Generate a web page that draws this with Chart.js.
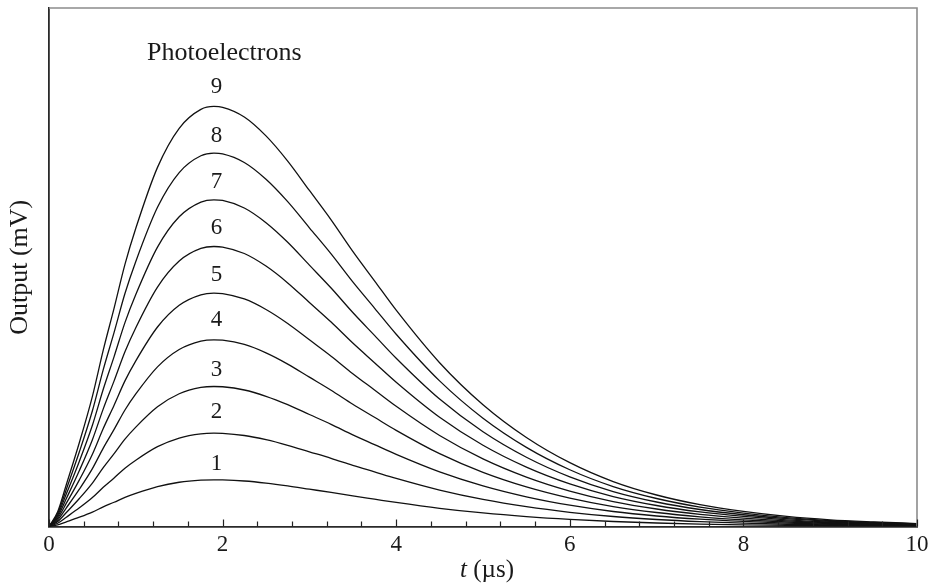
<!DOCTYPE html>
<html>
<head>
<meta charset="utf-8">
<script src="https://cdn.jsdelivr.net/npm/chart.js@4.4.1/dist/chart.umd.min.js"></script>
<style>
  html, body { margin: 0; padding: 0; background: #fff; }
  #wrap { width: 936px; height: 583px; }
</style>
</head>
<body>
<div id="wrap"><canvas id="c" width="936" height="583"></canvas></div>
<script>
// Time axis samples (µs)
const tValues = [0, 0.1, 0.2, 0.35, 0.5, 0.625, 0.75, 0.875, 1, 1.25, 1.5, 1.75, 1.9, 2, 2.25, 2.5, 2.75, 3, 3.25, 3.5, 3.75, 4, 4.5, 5, 5.5, 6, 6.5, 7, 7.5, 8, 8.5, 9, 9.5, 10];

// Output pulses for 1..9 photoelectrons
const pe1 = [0, 0.035, 0.10, 0.20, 0.31, 0.42, 0.52, 0.624, 0.71, 0.855, 0.948, 0.993, 1.0, 0.998, 0.975, 0.93, 0.87, 0.80, 0.73, 0.655, 0.585, 0.515, 0.39, 0.29, 0.212, 0.152, 0.107, 0.075, 0.052, 0.036, 0.024, 0.016, 0.011, 0.007];
const pe2 = [0, 0.07, 0.2, 0.4, 0.62, 0.84, 1.04, 1.248, 1.42, 1.71, 1.896, 1.986, 2.0, 1.996, 1.95, 1.86, 1.74, 1.6, 1.46, 1.31, 1.17, 1.03, 0.78, 0.58, 0.424, 0.304, 0.214, 0.15, 0.104, 0.072, 0.048, 0.032, 0.022, 0.014];
const pe3 = [0, 0.105, 0.3, 0.6, 0.93, 1.26, 1.56, 1.872, 2.13, 2.565, 2.844, 2.979, 3.0, 2.994, 2.925, 2.79, 2.61, 2.4, 2.19, 1.965, 1.755, 1.545, 1.17, 0.87, 0.636, 0.456, 0.321, 0.225, 0.156, 0.108, 0.072, 0.048, 0.033, 0.021];
const pe4 = [0, 0.14, 0.4, 0.8, 1.24, 1.68, 2.08, 2.496, 2.84, 3.42, 3.792, 3.972, 4.0, 3.992, 3.9, 3.72, 3.48, 3.2, 2.92, 2.62, 2.34, 2.06, 1.56, 1.16, 0.848, 0.608, 0.428, 0.3, 0.208, 0.144, 0.096, 0.064, 0.044, 0.028];
const pe5 = [0, 0.175, 0.5, 1.0, 1.55, 2.1, 2.6, 3.12, 3.55, 4.275, 4.74, 4.965, 5.0, 4.99, 4.875, 4.65, 4.35, 4.0, 3.65, 3.275, 2.925, 2.575, 1.95, 1.45, 1.06, 0.76, 0.535, 0.375, 0.26, 0.18, 0.12, 0.08, 0.055, 0.035];
const pe6 = [0, 0.21, 0.6, 1.2, 1.86, 2.52, 3.12, 3.744, 4.26, 5.13, 5.688, 5.958, 6.0, 5.988, 5.85, 5.58, 5.22, 4.8, 4.38, 3.93, 3.51, 3.09, 2.34, 1.74, 1.272, 0.912, 0.642, 0.45, 0.312, 0.216, 0.144, 0.096, 0.066, 0.042];
const pe7 = [0, 0.245, 0.7, 1.4, 2.17, 2.94, 3.64, 4.368, 4.97, 5.985, 6.636, 6.951, 7.0, 6.986, 6.825, 6.51, 6.09, 5.6, 5.11, 4.585, 4.095, 3.605, 2.73, 2.03, 1.484, 1.064, 0.749, 0.525, 0.364, 0.252, 0.168, 0.112, 0.077, 0.049];
const pe8 = [0, 0.28, 0.8, 1.6, 2.48, 3.36, 4.16, 4.992, 5.68, 6.84, 7.584, 7.944, 8.0, 7.984, 7.8, 7.44, 6.96, 6.4, 5.84, 5.24, 4.68, 4.12, 3.12, 2.32, 1.696, 1.216, 0.856, 0.6, 0.416, 0.288, 0.192, 0.128, 0.088, 0.056];
const pe9 = [0, 0.315, 0.9, 1.8, 2.79, 3.78, 4.68, 5.616, 6.39, 7.695, 8.532, 8.937, 9.0, 8.982, 8.775, 8.37, 7.83, 7.2, 6.57, 5.895, 5.265, 4.635, 3.51, 2.61, 1.908, 1.368, 0.963, 0.675, 0.468, 0.324, 0.216, 0.144, 0.099, 0.063];

// Curve annotations: number of photoelectrons and where the number sits
const curveNames = ['1', '2', '3', '4', '5', '6', '7', '8', '9'];
const curveLabelT = [1.93, 1.93, 1.93, 1.93, 1.93, 1.93, 1.93, 1.93, 1.93];
const curveLabelY = [1.35, 2.45, 3.35, 4.42, 5.39, 6.39, 7.39, 8.37, 9.42];
const headerText = 'Photoelectrons';
const headerPos = [2.02, 10.15];

// Axis ticks
const xMajorTicks = [0, 2, 4, 6, 8, 10];
const xTickLabels = ['0', '2', '4', '6', '8', '10'];
const xMinorStep = 0.4;

const allSeries = [pe1, pe2, pe3, pe4, pe5, pe6, pe7, pe8, pe9];

const SERIF = '"Liberation Serif", "Times New Roman", serif';
const INK = '#1a1a1a';

const datasets = allSeries.map((s, i) => ({
  label: curveNames[i],
  data: tValues.map((t, k) => ({ x: t, y: s[k] })),
  borderColor: '#111',
  borderWidth: 1.3,
  pointRadius: 0,
  fill: false,
  cubicInterpolationMode: 'monotone'
}));

function isMajor(v) {
  return xMajorTicks.some(m => Math.abs(m - v) < 1e-6);
}

const decorations = {
  id: 'decorations',
  afterDraw(chart) {
    const { ctx, chartArea: a, scales } = chart;
    const xs = scales.x, ys = scales.y;
    ctx.save();

    // top and right frame lines
    ctx.strokeStyle = '#8c8c8c';
    ctx.lineWidth = 1.6;
    ctx.beginPath();
    ctx.moveTo(a.left, a.top);
    ctx.lineTo(a.right, a.top);
    ctx.lineTo(a.right, a.bottom);
    ctx.stroke();

    // inward tick marks on the time axis
    ctx.strokeStyle = '#222';
    ctx.lineWidth = 1.2;
    xs.ticks.forEach(tk => {
      const px = Math.round(xs.getPixelForValue(tk.value)) + 0.5;
      const len = isMajor(tk.value) ? 7 : 5;
      ctx.beginPath();
      ctx.moveTo(px, a.bottom);
      ctx.lineTo(px, a.bottom - len);
      ctx.stroke();
    });

    // curve numbers and header
    ctx.fillStyle = INK;
    ctx.textAlign = 'center';
    ctx.textBaseline = 'middle';
    ctx.font = '23px ' + SERIF;
    curveNames.forEach((n, i) => {
      ctx.fillText(n, xs.getPixelForValue(curveLabelT[i]), ys.getPixelForValue(curveLabelY[i]));
    });
    ctx.font = '26px ' + SERIF;
    ctx.fillText(headerText, xs.getPixelForValue(headerPos[0]), ys.getPixelForValue(headerPos[1]));

    // time axis title: italic t followed by the unit
    const cx = (a.left + a.right) / 2 + 4;
    const cy = 570;
    const italic = 'italic 25px ' + SERIF;
    const upright = '25px ' + SERIF;
    ctx.font = italic;
    const w1 = ctx.measureText('t').width;
    ctx.font = upright;
    const rest = ' (µs)';
    const w2 = ctx.measureText(rest).width;
    let x0 = cx - (w1 + w2) / 2;
    ctx.textAlign = 'left';
    ctx.font = italic;
    ctx.fillText('t', x0, cy);
    ctx.font = upright;
    ctx.fillText(rest, x0 + w1, cy);

    ctx.restore();
  }
};

new Chart(document.getElementById('c'), {
  type: 'line',
  data: { datasets },
  plugins: [decorations],
  options: {
    responsive: false,
    devicePixelRatio: 1,
    animation: false,
    events: [],
    layout: { padding: { top: 8, right: 19, left: 0, bottom: 0 } },
    plugins: {
      legend: { display: false },
      tooltip: { enabled: false }
    },
    scales: {
      x: {
        type: 'linear',
        min: 0,
        max: 10,
        afterBuildTicks(scale) {
          const ticks = [];
          for (let k = 0; k * xMinorStep <= 10 + 1e-9; k++) {
            ticks.push({ value: Math.round(k * xMinorStep * 10) / 10 });
          }
          scale.ticks = ticks;
        },
        afterFit(scale) { scale.height = 56.5; },
        grid: { display: false, drawTicks: false },
        border: { display: true, color: '#2a2a2a', width: 1.8 },
        ticks: {
          autoSkip: false,
          maxRotation: 0,
          padding: 5,
          color: INK,
          font: { family: SERIF, size: 23 },
          callback(value) {
            const idx = xMajorTicks.findIndex(m => Math.abs(m - value) < 1e-6);
            return idx >= 0 ? xTickLabels[idx] : '';
          }
        }
      },
      y: {
        type: 'linear',
        min: 0,
        max: 11.11,
        afterFit(scale) { scale.width = 49; },
        grid: { display: false, drawTicks: false },
        border: { display: true, color: '#2a2a2a', width: 1.8 },
        ticks: { display: false },
        title: {
          display: true,
          text: 'Output (mV)',
          color: INK,
          font: { family: SERIF, size: 26, lineHeight: 1 },
          padding: { top: 7, bottom: 0 }
        }
      }
    }
  }
});
</script>
</body>
</html>
